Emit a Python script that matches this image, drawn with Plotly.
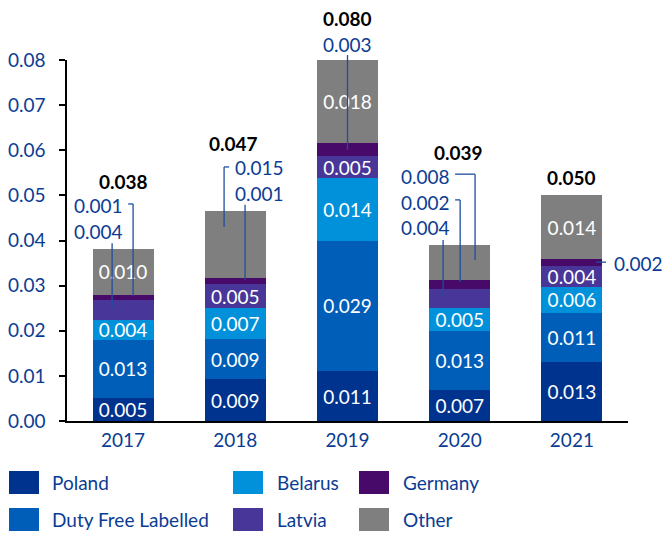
import plotly.graph_objects as go

# ---------------- data ----------------
years = ["2017", "2018", "2019", "2020", "2021"]
poland = [0.0051, 0.0092, 0.0110, 0.0068, 0.0131]
duty_free = [0.0129, 0.0089, 0.0290, 0.0132, 0.0109]
belarus = [0.0044, 0.0069, 0.0138, 0.0050, 0.0058]
latvia = [0.0044, 0.0054, 0.0049, 0.0042, 0.0045]
germany = [0.0012, 0.0014, 0.0029, 0.0020, 0.0016]
other = [0.0102, 0.0148, 0.0184, 0.0078, 0.0141]
y_ticks = [0.00, 0.01, 0.02, 0.03, 0.04, 0.05, 0.06, 0.07, 0.08]

series_names = ["Poland", "Duty Free Labelled", "Belarus", "Latvia", "Germany", "Other"]
series_values = [poland, duty_free, belarus, latvia, germany, other]

# ---------------- style ----------------
colors = {
    "Poland": "#00338D",
    "Duty Free Labelled": "#005EB8",
    "Belarus": "#0091DA",
    "Latvia": "#483698",
    "Germany": "#470A68",
    "Other": "#7F7F7F",
}
# which segments carry their label inside the bar
inside = {
    "Poland": [1, 1, 1, 1, 1],
    "Duty Free Labelled": [1, 1, 1, 1, 1],
    "Belarus": [1, 1, 1, 1, 1],
    "Latvia": [0, 1, 1, 0, 1],
    "Germany": [0, 0, 0, 0, 0],
    "Other": [1, 0, 1, 0, 1],
}
FONT = "Lato, 'Open Sans', sans-serif"
FS = 19
BLUE = "#0B3C93"
LINE_BLUE = "#1F4E9E"
Y_MAX = 0.08
N = len(years)


def px_x(i, dx):
    """category index + offset -> paper x"""
    return (i + dx + 0.5) / N


def px_y(v):
    """value -> paper y"""
    return v / Y_MAX


x = list(range(N))

fig = go.Figure()
for name, vals in zip(series_names, series_values):
    txt = [f"{v:.3f}" if show else "" for v, show in zip(vals, inside[name])]
    fig.add_trace(go.Bar(
        x=x, y=vals, name=name,
        marker=dict(color=colors[name], line=dict(width=0)),
        text=txt, textposition="inside", insidetextanchor="middle",
        textfont=dict(family=FONT, size=FS, color="white"),
        constraintext="none", showlegend=False, hoverinfo="skip",
    ))

annotations = []
shapes = []

# totals
total_y = [0.0530, 0.0616, 0.0893, 0.0596, 0.0539]
total_dx = [0.0, -0.02, 0.0, -0.014, 0.0]
for i in range(N):
    tot = sum(s[i] for s in series_values)
    annotations.append(dict(
        x=px_x(i, total_dx[i]), y=px_y(total_y[i]), xref="paper", yref="paper",
        xanchor="center", yanchor="middle",
        text=f"<b>{tot:.3f}</b>", showarrow=False,
        font=dict(family=FONT, size=FS, color="black"),
    ))

# external labels with leader lines: (year idx, series, label dx, label y, anchor, leader points)
external = [
    (0, "Germany", -0.223, 0.04765, "center", [(0.045, 0.0481), (0.089, 0.0481), (0.089, 0.0277)]),
    (0, "Latvia", -0.223, 0.0419, "center", [(-0.098, 0.0394), (-0.098, 0.0250)]),
    (1, "Other", 0.212, 0.0561, "center", [(-0.055, 0.0563), (-0.10, 0.0563), (-0.10, 0.0430)]),
    (1, "Germany", 0.212, 0.0505, "center", [(0.087, 0.0479), (0.087, 0.0312)]),
    (2, "Germany", 0.0, 0.0835, "center", [(0.0, 0.0811), (0.0, 0.0601)]),
    (3, "Other", -0.304, 0.0541, "center", [(-0.041, 0.0547), (0.137, 0.0547), (0.137, 0.0357)]),
    (3, "Germany", -0.304, 0.0485, "center", [(-0.041, 0.0490), (0.004, 0.0490), (0.004, 0.0308)]),
    (3, "Latvia", -0.304, 0.0428, "center", [(-0.148, 0.0401), (-0.148, 0.0277)]),
    (4, "Germany", 0.358, 0.0348, "left", [(0.217, 0.0352), (0.305, 0.0352)]),
]
for i, name, lx, ly, anc, pts in external:
    v = series_values[series_names.index(name)][i]
    annotations.append(dict(
        x=px_x(i, lx), y=px_y(ly), xref="paper", yref="paper",
        xanchor=anc, yanchor="middle",
        text=f"{v:.3f}", showarrow=False,
        font=dict(family=FONT, size=FS, color=BLUE),
    ))
    for (x0, y0), (x1, y1) in zip(pts[:-1], pts[1:]):
        shapes.append(dict(
            type="line", xref="paper", yref="paper",
            x0=px_x(i, x0), y0=px_y(y0), x1=px_x(i, x1), y1=px_y(y1),
            line=dict(color=LINE_BLUE, width=1.3),
        ))

# manual legend (3 columns x 2 rows)
legend_layout = [
    ("Poland", 0, 0), ("Duty Free Labelled", 0, 1),
    ("Belarus", 1, 0), ("Latvia", 1, 1),
    ("Germany", 2, 0), ("Other", 2, 1),
]
col_sw = [(-0.1034, -0.0499), (0.2959, 0.3494), (0.5205, 0.5740)]
col_tx = [-0.0303, 0.3708, 0.5954]
row_sw = [(-0.1385, -0.2022), (-0.2410, -0.3047)]
row_tx = [-0.1704, -0.2729]
for name, c, r in legend_layout:
    shapes.append(dict(
        type="rect", xref="paper", yref="paper",
        x0=col_sw[c][0], x1=col_sw[c][1], y0=row_sw[r][1], y1=row_sw[r][0],
        fillcolor=colors[name], line=dict(width=0),
    ))
    annotations.append(dict(
        x=col_tx[c], y=row_tx[r], xref="paper", yref="paper",
        xanchor="left", yanchor="middle", text=name, showarrow=False,
        font=dict(family=FONT, size=FS, color=BLUE),
    ))

fig.update_layout(
    barmode="stack",
    bargap=0.456,
    width=662, height=535,
    margin=dict(l=67, r=34, t=60, b=114, autoexpand=False),
    paper_bgcolor="white", plot_bgcolor="white",
    font=dict(family=FONT, size=FS, color=BLUE),
    annotations=annotations,
    shapes=shapes,
    showlegend=False,
    xaxis=dict(
        range=[-0.5, N - 0.5], automargin=False,
        tickmode="array", tickvals=x, ticktext=years,
        showgrid=False, zeroline=False,
        showline=True, linecolor="black", linewidth=1.5,
        ticks="", ticklabelstandoff=1,
        tickfont=dict(family=FONT, size=FS, color=BLUE),
        fixedrange=True,
    ),
    yaxis=dict(
        range=[0, Y_MAX], automargin=False,
        tickmode="array", tickvals=y_ticks,
        ticktext=[f"{t:.2f}" for t in y_ticks],
        showgrid=False, zeroline=False,
        showline=True, linecolor="black", linewidth=1.5,
        ticks="outside", ticklen=6, tickwidth=1.5, tickcolor="black",
        ticklabelstandoff=10,
        tickfont=dict(family=FONT, size=FS, color=BLUE),
        fixedrange=True,
    ),
)

fig.write_html(
    "out.html",
    config={"displayModeBar": False},
    post_script="document.body.style.margin='0px';document.body.style.overflow='hidden';",
)
